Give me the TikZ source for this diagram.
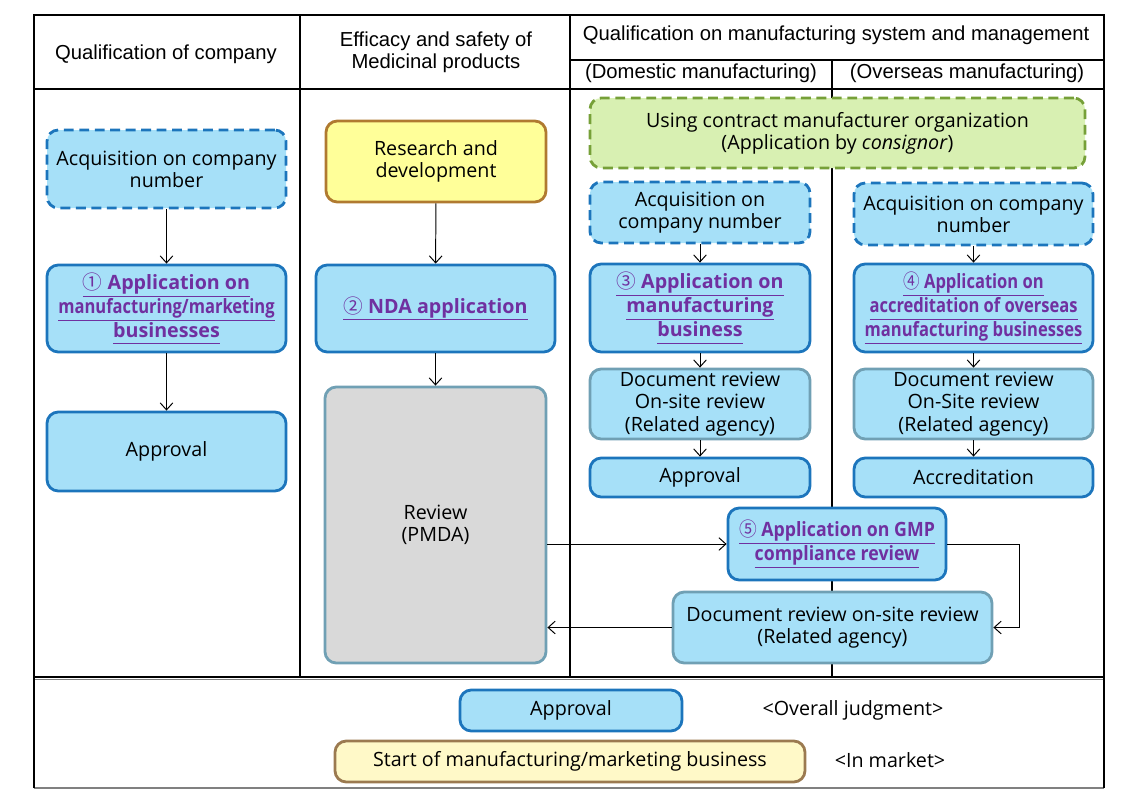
\documentclass[tikz,border=0pt]{standalone}
\usepackage{fontspec}
\usepackage{graphicx}
\setmainfont{Open Sans}
\newfontfamily\headfont{Liberation Sans}
\newfontfamily\circfont{Noto Sans CJK KR}
\usetikzlibrary{arrows.meta}

\definecolor{boxblue}{RGB}{166,224,248}
\definecolor{edgeblue}{RGB}{28,117,188}
\definecolor{edgegray}{RGB}{112,160,180}
\definecolor{revgray}{RGB}{217,217,217}
\definecolor{rndyellow}{RGB}{255,255,153}
\definecolor{rndbrown}{RGB}{176,122,48}
\definecolor{startyellow}{RGB}{255,249,200}
\definecolor{startbrown}{RGB}{155,122,80}
\definecolor{cmogreen}{RGB}{216,240,178}
\definecolor{cmoedge}{RGB}{118,160,56}
\definecolor{applpurple}{RGB}{112,48,160}

\def\pxu{0.025cm}
\newcommand{\appl}[1]{\underline{#1\vphantom{gy}}}
\newcommand{\circnum}[1]{{\circfont\mdseries #1}}
\newcommand{\squeeze}[2][0.84]{\scalebox{#1}[1]{#2}}

\begin{document}
\begin{tikzpicture}[x=0.025cm, y=-0.025cm,
    every node/.style={font=\fontsize{14}{15.8}\selectfont, align=center},
    sz/.style 2 args={minimum width=#1*\pxu, minimum height=#2*\pxu, inner sep=0pt},
    box/.style={rectangle, rounded corners=8pt, fill=boxblue, draw=edgeblue, line width=2pt},
    dashbox/.style={box, dash pattern=on 7pt off 4pt},
    docbox/.style={box, draw=edgegray},
    applbox/.style={box, text=applpurple, font=\fontsize{14}{15.4}\selectfont\bfseries},
    headtxt/.style={font=\headfont\fontsize{14.4}{15.8}\selectfont},
    arr/.style={-{Straight Barb[length=5pt,width=9pt]}, line width=0.7pt},
    tline/.style={line width=0.8pt}]

  \useasboundingbox (0,0) rectangle (1144,810);

  % table
  \draw[tline] (34,89) -- (1104,89);
  \draw[tline] (570,60) -- (1104,60);
  \draw[tline] (300,15) -- (300,678);
  \draw[tline] (570,15) -- (570,678);
  \draw[tline] (832,60) -- (832,678);
  \draw[line width=1.2pt] (34,677) -- (1104,677);
  \draw[line width=1pt, gray] (34,679.5) -- (1104,679.5);
  \draw[line width=2pt, gray] (34,788) -- (1104,788);
  \draw[line width=2pt] (34,788) -- (34,15) -- (1104,15) -- (1104,788);

  % headers
  \node[headtxt] (hQual) at (166,54) {Qualification of company};
  \node[headtxt] (hEff)  at (436,52) {Efficacy and safety of\\Medicinal products};
  \node[headtxt] (hMfg)  at (836,35) {Qualification on manufacturing system and management};
  \node[headtxt] (hDom)  at (701,73) {(Domestic manufacturing)};
  \node[headtxt] (hOvs)  at (967,73) {(Overseas manufacturing)};

  % company
  \node[dashbox, sz={239}{78}] (acqL)  at (166.5,169)   {Acquisition on company\\number};
  \node[applbox, sz={239}{87}] (app1)  at (166.5,308.5) {\appl{\circnum{①} Application on}\\\squeeze{\appl{manufacturing/marketing}}\\\appl{businesses}};
  \node[box, sz={239}{79}]     (apprL) at (166.5,451.5) {Approval};

  % product
  \node[box, fill=rndyellow, draw=rndbrown, sz={220}{81}] (rnd) at (436,161.5) {Research and\\development};
  \node[applbox, sz={239}{87}] (nda) at (435.5,308.5) {\appl{\circnum{②} NDA application}};
  \node[box, fill=revgray, draw=edgegray, sz={221}{276}] (review) at (435.5,525) {Review\\(PMDA)};

  % manufacturing
  \node[dashbox, fill=cmogreen, draw=cmoedge, sz={495}{70}] (cmo) at (837.5,133) {Using contract manufacturer organization\\(Application by \textit{consignor})};
  \node[dashbox, sz={220}{61}] (acqD)  at (700,212.5)  {Acquisition on\\company number};
  \node[dashbox, sz={239}{62}] (acqO)  at (973.5,214)  {Acquisition on company\\number};
  \node[applbox, sz={220}{88}] (app3)  at (700,308)    {\appl{\circnum{③} Application on}\\\appl{manufacturing}\\\appl{business}};
  \node[applbox, sz={239}{88}] (app4)  at (973.5,308)  {\squeeze{\appl{\circnum{④} Application on}}\\\squeeze{\appl{accreditation of overseas}}\\\squeeze{\appl{manufacturing businesses}}};
  \node[docbox, sz={220}{70}]  (docD)  at (700,404)    {Document review\\On-site review\\(Related agency)};
  \node[docbox, sz={239}{70}]  (docO)  at (973.5,404)  {Document review\\On-Site review\\(Related agency)};
  \node[box, sz={220}{39}]     (apprD) at (700,477.5)  {Approval};
  \node[box, sz={239}{39}]     (accr)  at (973.5,477.5) {Accreditation};
  \node[applbox, sz={218}{72}] (app5)  at (837,544)    {\squeeze[0.9]{\appl{\circnum{⑤} Application on GMP}}\\\squeeze[0.9]{\appl{compliance review}}};
  \node[docbox, sz={319}{71}]  (docG)  at (832.5,627.5) {Document review on-site review\\(Related agency)};
  \coordinate (turn) at (1019,544);

  % overall
  \node[box, sz={222}{41}] (apprF) at (571,710.5) {Approval};
  \node[box, fill=startyellow, draw=startbrown, sz={470}{41}] (start) at (570,761.5) {Start of manufacturing/marketing business};
  \node (lJudg) at (853,710) {<Overall judgment>};
  \node (lMkt)  at (890,760) {<In market>};

  % arrows
  \draw[arr] (acqL) -- (app1);
  \draw[arr] (app1) -- (apprL);
  \draw[arr] (rnd) -- (nda);
  \draw[arr] (nda) -- (review);
  \draw[arr] (acqD) -- (app3);
  \draw[arr] (app3) -- (docD);
  \draw[arr] (docD) -- (apprD);
  \draw[arr] (acqO) -- (app4);
  \draw[arr] (app4) -- (docO);
  \draw[arr] (docO) -- (accr);
  \draw[arr] (app5.west -| review.east) -- (app5.west);
  \draw[arr] (app5.east) -- (turn) |- (docG.east);
  \draw[arr] (docG.west) -- (docG.west -| review.east);

\end{tikzpicture}
\end{document}
